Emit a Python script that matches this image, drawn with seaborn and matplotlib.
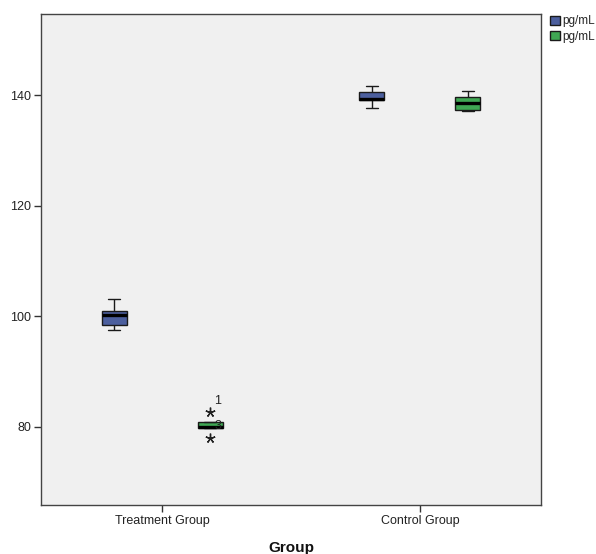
import numpy as np
import pandas as pd
import matplotlib
matplotlib.use("Agg")
import matplotlib.pyplot as plt
import seaborn as sns

# ---- data ----
groups = ["Treatment Group", "Control Group"]
series = ["Series 1", "Series 2"]
legend_labels = ["pg/mL", "pg/mL"]

treat_s1 = [97.5, 98.4, 100.2, 101.0, 103.1]
treat_s2 = [78.0, 79.8, 79.8, 80.0, 80.8, 80.8, 82.6]
ctrl_s1 = [137.7, 139.1, 139.4, 140.5, 141.6]
ctrl_s2 = [137.1, 137.4, 138.5, 139.6, 140.7]

outlier_values = [82.6, 78.0]
outlier_case_ids = ["1", "3"]

y_ticks = [80, 100, 120, 140]

rows = []
for g, s, vals in [(groups[0], series[0], treat_s1), (groups[0], series[1], treat_s2),
                   (groups[1], series[0], ctrl_s1), (groups[1], series[1], ctrl_s2)]:
    for v in vals:
        rows.append({"Group": g, "Series": s, "value": v})
df = pd.DataFrame(rows)

sns.set_theme(style="white")
plt.rcParams["font.family"] = ["Liberation Sans", "DejaVu Sans"]

fig = plt.figure(figsize=(5.96, 5.54), dpi=100)
ax = fig.add_axes([41 / 596, 1 - 505 / 554, 500 / 596, (505 - 14) / 554])
ax.set_facecolor("#F0F0F0")

sns.boxplot(data=df, x="Group", y="value", hue="Series", order=groups, hue_order=series,
            palette=["#3E58AC", "#2EB848"], width=0.745, gap=0.74, whis=1.5,
            linecolor="#1a1a1a", linewidth=1.0,
            medianprops=dict(color="black", linewidth=2.4),
            flierprops=dict(marker=(5, 2, 0), markersize=7, markerfacecolor="#222222",
                            markeredgecolor="#222222", markeredgewidth=1.0),
            ax=ax)

# label the extreme points with case numbers
for line in ax.lines:
    if line.get_marker() == (5, 2, 0):
        for xv, yv in zip(line.get_xdata(), line.get_ydata()):
            for val, cid in zip(outlier_values, outlier_case_ids):
                if abs(yv - val) < 1e-6:
                    ax.annotate(cid, (xv, yv), xytext=(3, 4), textcoords="offset points",
                                fontsize=9, color="#222222", ha="left", va="bottom")

ax.set_xlim(-0.47, 1.47)
ax.set_ylim(65.8, 154.7)
ax.set_yticks(y_ticks)
ax.set_yticklabels([str(t) for t in y_ticks])
ax.tick_params(axis="both", which="both", direction="out", length=5, width=1,
               color="#333333", labelsize=9, labelcolor="#222222", pad=2, left=True, bottom=True)
ax.set_ylabel("")
ax.set_xlabel("Group", fontsize=11, fontweight="bold", color="#111111", labelpad=10)
for sp in ax.spines.values():
    sp.set_color("#444444")
    sp.set_linewidth(1.0)

handles, _ = ax.get_legend_handles_labels()
ax.legend(handles, legend_labels, loc="upper left", bbox_to_anchor=(549 / 596, 1 - 14 / 554),
          bbox_transform=fig.transFigure, frameon=False, fontsize=8.5,
          handlelength=0.8, handleheight=0.8, handletextpad=0.2, labelspacing=0.3,
          borderpad=0.1, borderaxespad=0)

fig.savefig("out.png", dpi=100, facecolor="white")
